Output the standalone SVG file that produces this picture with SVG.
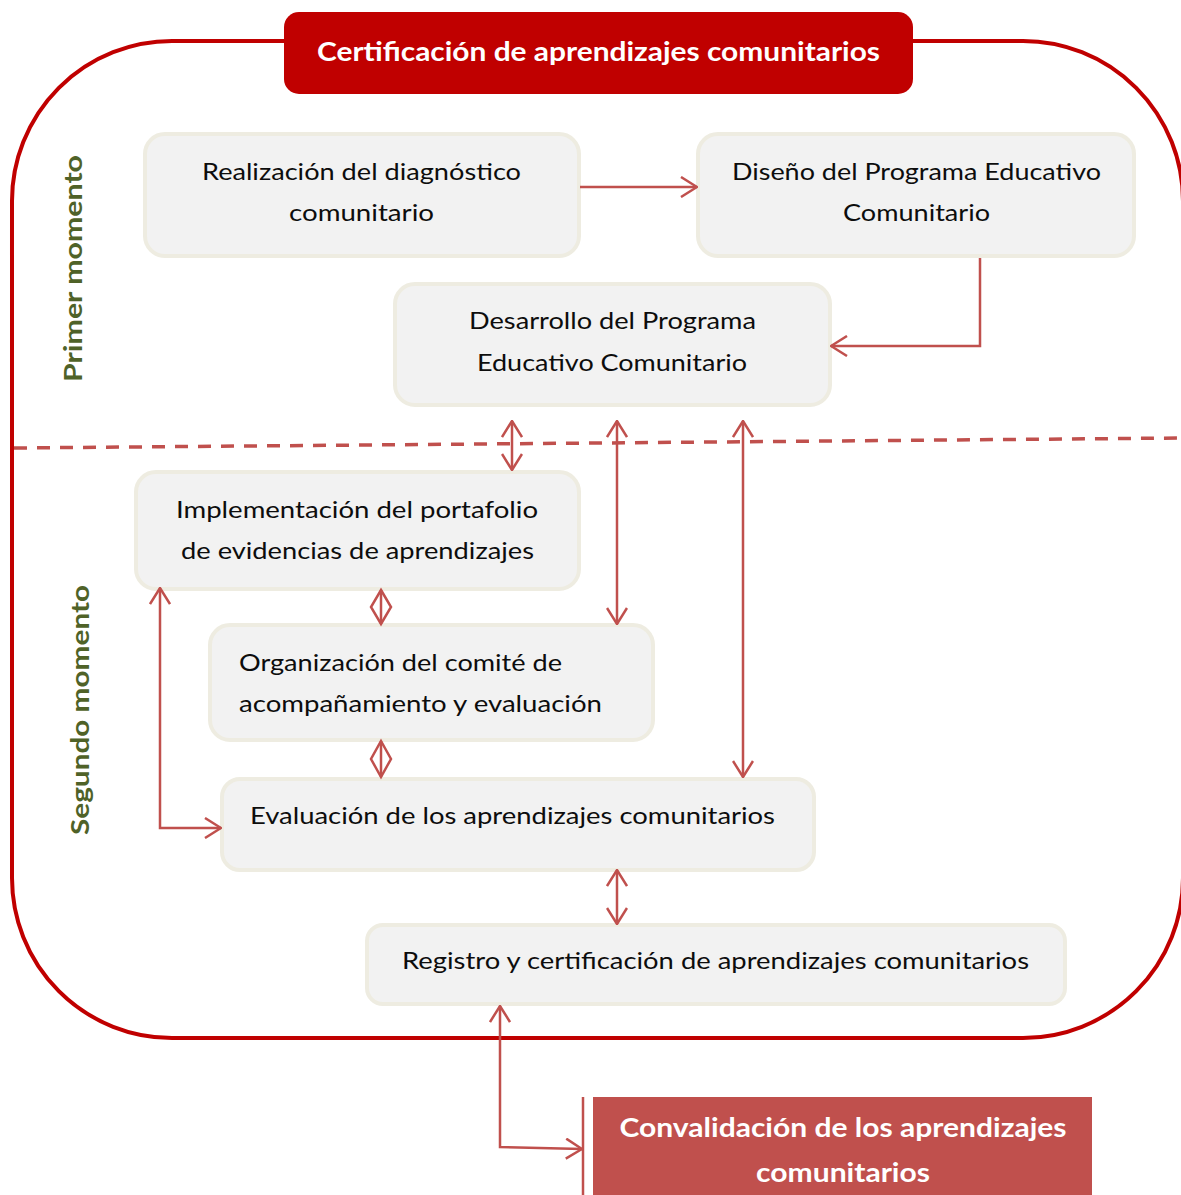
<svg xmlns="http://www.w3.org/2000/svg" width="1181" height="1195" viewBox="0 0 1181 1195">
<style>
.node{fill:#F2F2F2;stroke:#EEECE1;stroke-width:4}
.t{font-family:Lato,"Liberation Sans","DejaVu Sans",sans-serif;font-size:24px;fill:#0D0D0D}
.w{font-family:Lato,"Liberation Sans","DejaVu Sans",sans-serif;font-size:27px;font-weight:bold;fill:#FFFFFF}
.g{font-family:Lato,"Liberation Sans","DejaVu Sans",sans-serif;font-size:25px;font-weight:bold;fill:#4F6228}
.c{fill:none;stroke:#C0504D;stroke-width:2.5}
</style>
<defs>
<marker id="a" viewBox="0 0 18 22" refX="17" refY="11" markerWidth="18" markerHeight="22" markerUnits="userSpaceOnUse" orient="auto-start-reverse">
<path d="M1,1 L17,11 L1,21" fill="none" stroke="#C0504D" stroke-width="2.5"/>
</marker>
</defs>
<g id="frame">
<path d="M172,41 H1023 A160,160 0 0 1 1183,201 V878 A160,160 0 0 1 1023,1038 H172 A160,160 0 0 1 12,878 V201 A160,160 0 0 1 172,41 Z" fill="none" stroke="#C00000" stroke-width="4"/>
<line x1="14" y1="448" x2="1181" y2="438" stroke="#C0504D" stroke-width="3.5" stroke-dasharray="13,10"/>
</g>
<g id="title">
<rect x="284" y="12" width="629" height="82" rx="15" fill="#C00000"/>
<text class="w" x="598.5" y="61" text-anchor="middle" textLength="563" lengthAdjust="spacingAndGlyphs">Certificación de aprendizajes comunitarios</text>
</g>
<g id="label-primer">
<text class="g" transform="translate(82,268.5) rotate(-90)" text-anchor="middle" textLength="227" lengthAdjust="spacingAndGlyphs">Primer momento</text>
</g>
<g id="label-segundo">
<text class="g" transform="translate(89,710) rotate(-90)" text-anchor="middle" textLength="250" lengthAdjust="spacingAndGlyphs">Segundo momento</text>
</g>
<g id="n-realizacion">
<rect class="node" x="145" y="134" width="434" height="122" rx="20"/>
<text class="t" x="361.5" y="180" text-anchor="middle" textLength="319" lengthAdjust="spacingAndGlyphs">Realización del diagnóstico</text>
<text class="t" x="361.5" y="221" text-anchor="middle" textLength="145" lengthAdjust="spacingAndGlyphs">comunitario</text>
</g>
<g id="n-diseno">
<rect class="node" x="698" y="134" width="436" height="122" rx="20"/>
<text class="t" x="916.5" y="180" text-anchor="middle" textLength="369" lengthAdjust="spacingAndGlyphs">Diseño del Programa Educativo</text>
<text class="t" x="916.5" y="221" text-anchor="middle" textLength="147" lengthAdjust="spacingAndGlyphs">Comunitario</text>
</g>
<g id="n-desarrollo">
<rect class="node" x="395" y="284" width="435" height="121" rx="20"/>
<text class="t" x="612.5" y="329" text-anchor="middle" textLength="287" lengthAdjust="spacingAndGlyphs">Desarrollo del Programa</text>
<text class="t" x="612" y="371" text-anchor="middle" textLength="270" lengthAdjust="spacingAndGlyphs">Educativo Comunitario</text>
</g>
<g id="n-implementacion">
<rect class="node" x="136" y="472" width="443" height="117" rx="20"/>
<text class="t" x="357" y="518" text-anchor="middle" textLength="362" lengthAdjust="spacingAndGlyphs">Implementación del portafolio</text>
<text class="t" x="357.5" y="559" text-anchor="middle" textLength="353" lengthAdjust="spacingAndGlyphs">de evidencias de aprendizajes</text>
</g>
<g id="n-organizacion">
<rect class="node" x="210" y="625" width="443" height="115" rx="20"/>
<text class="t" x="239" y="671" textLength="323" lengthAdjust="spacingAndGlyphs">Organización del comité de</text>
<text class="t" x="239" y="712" textLength="363" lengthAdjust="spacingAndGlyphs">acompañamiento y evaluación</text>
</g>
<g id="n-evaluacion">
<rect class="node" x="222" y="779" width="592" height="91" rx="18"/>
<text class="t" x="250" y="824" textLength="525" lengthAdjust="spacingAndGlyphs">Evaluación de los aprendizajes comunitarios</text>
</g>
<g id="n-registro">
<rect class="node" x="367" y="925" width="698" height="79" rx="16"/>
<text class="t" x="402" y="969" textLength="627" lengthAdjust="spacingAndGlyphs">Registro y certificación de aprendizajes comunitarios</text>
</g>
<g id="n-convalidacion">
<rect x="593" y="1097" width="499" height="100" fill="#C0504D"/>
<line x1="583" y1="1097" x2="583" y2="1195" stroke="#C0504D" stroke-width="2.5"/>
<text class="w" x="843" y="1137" text-anchor="middle" textLength="447" lengthAdjust="spacingAndGlyphs">Convalidación de los aprendizajes</text>
<text class="w" x="843" y="1182" text-anchor="middle" textLength="174" lengthAdjust="spacingAndGlyphs">comunitarios</text>
</g>
<g id="connectors">
<line class="c" x1="580" y1="187" x2="697" y2="187" marker-end="url(#a)"/>
<polyline class="c" points="980,258 980,346 831,346" marker-end="url(#a)"/>
<line class="c" x1="512" y1="421" x2="512" y2="470" stroke-width="3" marker-start="url(#a)" marker-end="url(#a)"/>
<line class="c" x1="617" y1="421" x2="617" y2="624" stroke-width="3" marker-start="url(#a)" marker-end="url(#a)"/>
<line class="c" x1="743" y1="421" x2="743" y2="777" stroke-width="3" marker-start="url(#a)" marker-end="url(#a)"/>
<polygon class="c" points="381,590 391,607 381,624 371,607"/>
<line class="c" x1="381" y1="590" x2="381" y2="624"/>
<polygon class="c" points="381,741 391,759 381,777 371,759"/>
<line class="c" x1="381" y1="741" x2="381" y2="777"/>
<polyline class="c" points="160,588 160,828 221,828" marker-start="url(#a)" marker-end="url(#a)"/>
<line class="c" x1="617" y1="870" x2="617" y2="924" stroke-width="3" marker-start="url(#a)" marker-end="url(#a)"/>
<polyline class="c" points="500,1006 500,1147 582,1149" marker-start="url(#a)" marker-end="url(#a)"/>
</g>
</svg>
